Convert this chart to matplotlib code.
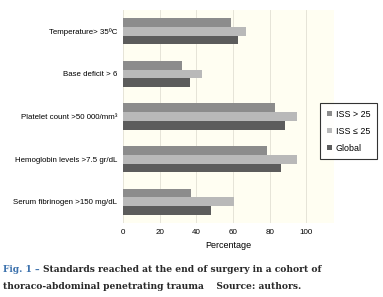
import matplotlib
matplotlib.use("Agg")
import matplotlib.pyplot as plt
import numpy as np

# Data
categories = [
    "Temperature> 35ºC",
    "Base deficit > 6",
    "Platelet count >50 000/mm³",
    "Hemoglobin levels >7.5 gr/dL",
    "Serum fibrinogen >150 mg/dL",
]
iss_high = [58.7, 32.0, 82.9, 78.7, 36.9]
iss_low = [67.0, 42.9, 94.9, 94.9, 60.5]
global_vals = [62.9, 36.7, 88.5, 86.0, 47.8]
series_names = ["ISS > 25", "ISS ≤ 25", "Global"]
xticks = [0, 20, 40, 60, 80, 100]

colors = ["#8c8c8c", "#b9b9b9", "#5c5c5c"]
sans = ["Liberation Sans", "DejaVu Sans"]

fig = plt.figure(figsize=(3.83, 2.97), dpi=100)
ax = fig.add_axes([0.321, 0.249, 0.551, 0.717])
ax.set_facecolor("#fffef2")

y = np.arange(len(categories))
h = 0.205
handles = []
for i, (vals, name) in enumerate(zip([iss_high, iss_low, global_vals], series_names)):
    b = ax.barh(y + (i - 1) * h, vals, height=h, color=colors[i], label=name)
    handles.append(b)

ax.set_ylim(len(categories) - 0.5, -0.5)
ax.set_xlim(0, 115)
ax.set_yticks(y)
ax.set_yticklabels(categories, fontsize=5.65, family=sans)
ax.set_xticks(xticks)
ax.set_xticklabels([str(t) for t in xticks], fontsize=5.8, family=sans)
ax.tick_params(length=0, pad=4)
ax.set_xlabel("Percentage", fontsize=6.5, family=sans, labelpad=4)
ax.grid(axis="x", color="#e6e4d8", linewidth=0.7)
ax.set_axisbelow(True)
for s in ax.spines.values():
    s.set_visible(False)

leg = fig.legend(handles=handles, loc="upper left", bbox_to_anchor=(0.8355, 0.653),
                 prop={"family": sans, "size": 6.4}, frameon=True, fancybox=False,
                 handlelength=0.55, handleheight=0.55, handletextpad=0.45,
                 labelspacing=0.9, borderpad=0.75, borderaxespad=0)
leg.get_frame().set_edgecolor("black")
leg.get_frame().set_linewidth(0.8)

# Caption
fig.canvas.draw()
r = fig.canvas.get_renderer()
cap_font = {"family": "DejaVu Serif", "weight": "bold", "size": 6.55}
t1 = fig.text(0.008, 0.091, "Fig. 1 –", color="#3d72ad", va="center", **cap_font)
bb = t1.get_window_extent(renderer=r)
x2 = (bb.x1 + 3) / fig.bbox.width
fig.text(x2, 0.091, "Standards reached at the end of surgery in a cohort of",
         color="#2a2a2a", va="center", **cap_font)
fig.text(0.008, 0.035, "thoraco-abdominal penetrating trauma    Source: authors.",
         color="#2a2a2a", va="center", **cap_font)

fig.savefig("out.png", dpi=100, facecolor="white")
